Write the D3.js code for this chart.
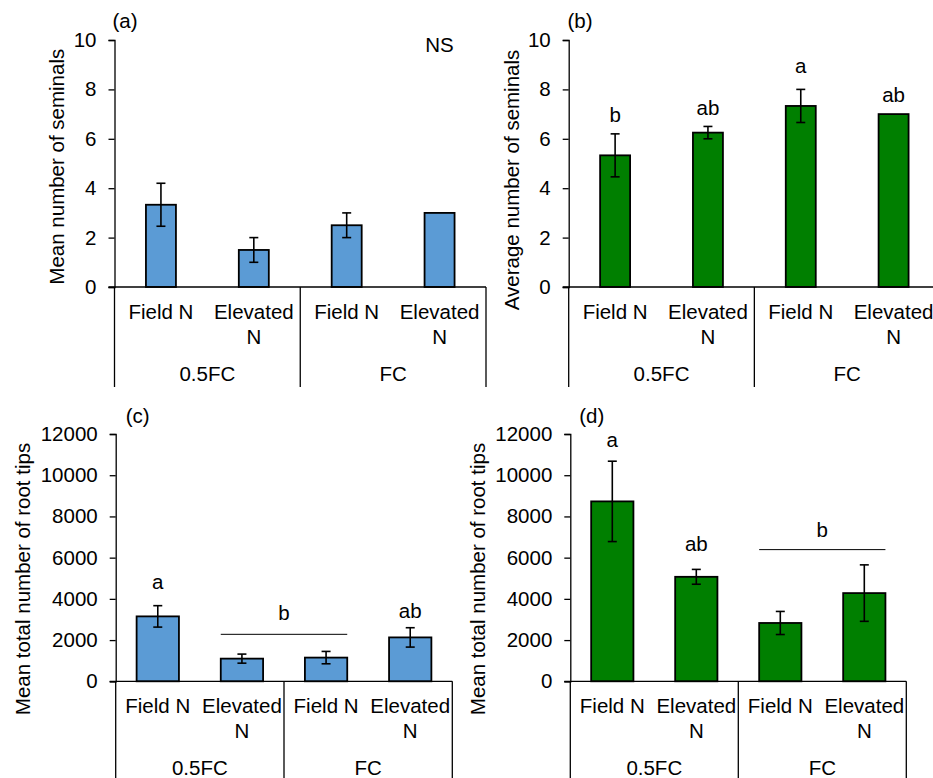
<!DOCTYPE html>
<html>
<head>
<meta charset="utf-8">
<script src="https://cdn.jsdelivr.net/npm/d3@7"></script>
<style>
  html, body { margin: 0; padding: 0; background: #fff; }
  svg { display: block; font-family: "Liberation Sans", Arial, sans-serif; }
</style>
</head>
<body>
<svg id="chart" width="933" height="778"></svg>
<script>
// Treatments: N level within each water regime
const nLevels = ["Field N", "Elevated N", "Field N", "Elevated N"];
const nLevelLines = [["Field N"], ["Elevated", "N"], ["Field N"], ["Elevated", "N"]];
const waterRegimes = ["0.5FC", "FC"];

// (a) seminal roots, blue series
const seminalsA = [3.33, 1.5, 2.5, 3.0];
const seminalsAErr = [0.87, 0.5, 0.5, 0];
// (b) seminal roots, green series
const seminalsB = [5.33, 6.25, 7.33, 7.0];
const seminalsBErr = [0.87, 0.25, 0.67, 0];
// (c) root tips, blue series
const tipsC = [3150, 1100, 1150, 2130];
const tipsCErr = [520, 220, 300, 470];
// (d) root tips, green series
const tipsD = [8730, 5070, 2830, 4280];
const tipsDErr = [1950, 360, 560, 1370];

// Significance letters: text, first/last bar covered, height in data units, optional bracket line
const lettersA = [{ text: "NS", from: 3, to: 3, at: 9.8 }];
const lettersB = [
  { text: "b", from: 0, to: 0, at: 7.0 },
  { text: "ab", from: 1, to: 1, at: 7.28 },
  { text: "a", from: 2, to: 2, at: 8.95 },
  { text: "ab", from: 3, to: 3, at: 7.8 }
];
const lettersC = [
  { text: "a", from: 0, to: 0, at: 4830 },
  { text: "b", from: 1, to: 2, at: 3330, line: 2280 },
  { text: "ab", from: 3, to: 3, at: 3430 }
];
const lettersD = [
  { text: "a", from: 0, to: 0, at: 11710 },
  { text: "ab", from: 1, to: 1, at: 6700 },
  { text: "b", from: 2, to: 3, at: 7380, line: 6390 }
];

const seminalTicks = [0, 2, 4, 6, 8, 10];
const tipTicks = [0, 2000, 4000, 6000, 8000, 10000, 12000];

const BLUE = "#5B9BD5";
const GREEN = "#007F00";
const FONT = 20.5;

const svg = d3.select("#chart");

function drawPanel(p) {
  const g = svg.append("g");
  const ids = d3.range(p.values.length);
  const x = d3.scaleBand().domain(ids).range([p.x0, p.x1]).padding(0);
  const y = d3.scaleLinear().domain([0, p.max]).range([p.yBottom, p.yTop]);
  const bw = x.bandwidth() * p.barFrac;
  const cx = i => x(i) + x.bandwidth() / 2;

  // y axis
  const yAxis = d3.axisLeft(y).tickValues(p.ticks).tickSize(6).tickPadding(12).tickFormat(d3.format("d"));
  const ya = g.append("g").attr("transform", `translate(${p.x0},0)`).call(yAxis);
  ya.select(".domain").attr("stroke", "#000").attr("stroke-width", 1.3);
  ya.selectAll(".tick line").attr("stroke", "#000").attr("stroke-width", 1.3);
  ya.selectAll(".tick text").attr("font-size", FONT).attr("fill", "#000")
    .attr("font-family", "'Liberation Sans', Arial, sans-serif");

  // bars
  g.selectAll("rect.bar").data(p.values).join("rect")
    .attr("class", "bar")
    .attr("x", (d, i) => cx(i) - bw / 2)
    .attr("y", d => y(d))
    .attr("width", bw)
    .attr("height", d => y(0) - y(d))
    .attr("fill", p.color)
    .attr("stroke", "#000")
    .attr("stroke-width", 1.8);

  // error bars
  const cap = 4.5;
  ids.forEach(i => {
    const e = p.errors[i];
    if (!e) return;
    const v = p.values[i];
    const eg = g.append("g").attr("stroke", "#000").attr("stroke-width", 1.6);
    eg.append("line").attr("x1", cx(i)).attr("x2", cx(i)).attr("y1", y(v + e)).attr("y2", y(v - e));
    eg.append("line").attr("x1", cx(i) - cap).attr("x2", cx(i) + cap).attr("y1", y(v + e)).attr("y2", y(v + e));
    eg.append("line").attr("x1", cx(i) - cap).attr("x2", cx(i) + cap).attr("y1", y(v - e)).attr("y2", y(v - e));
  });

  // category axis: baseline, separators and labels
  g.append("line").attr("x1", p.x0 - 6).attr("x2", p.x1).attr("y1", y(0)).attr("y2", y(0))
    .attr("stroke", "#000").attr("stroke-width", 1.3);
  [0, 2, 4].forEach(k => {
    const xx = k === 4 ? p.x1 : x(k);
    g.append("line").attr("x1", xx).attr("x2", xx).attr("y1", y(0)).attr("y2", y(0) + p.catDepth)
      .attr("stroke", "#000").attr("stroke-width", 1.3);
  });
  nLevelLines.forEach((lines, i) => {
    lines.forEach((t, j) => {
      g.append("text").attr("x", cx(i)).attr("y", y(0) + 24.5 + j * 24.5)
        .attr("text-anchor", "middle").attr("dominant-baseline", "central")
        .attr("font-size", FONT).attr("fill", "#000").text(t);
    });
  });
  waterRegimes.forEach((t, k) => {
    g.append("text").attr("x", x(2 * k) + x.bandwidth())
      .attr("y", y(0) + 86)
      .attr("text-anchor", "middle").attr("dominant-baseline", "central")
      .attr("font-size", FONT).attr("fill", "#000").text(t);
  });

  // significance letters
  p.letters.forEach(L => {
    const xm = (cx(L.from) + cx(L.to)) / 2;
    g.append("text").attr("x", xm).attr("y", y(L.at))
      .attr("text-anchor", "middle").attr("dominant-baseline", "central")
      .attr("font-size", FONT).attr("fill", "#000").text(L.text);
    if (L.line !== undefined) {
      g.append("line")
        .attr("x1", cx(L.from) - bw / 2).attr("x2", cx(L.to) + bw / 2)
        .attr("y1", y(L.line)).attr("y2", y(L.line))
        .attr("stroke", "#000").attr("stroke-width", 1);
    }
  });

  // panel tag
  g.append("text").attr("x", p.tag[1]).attr("y", p.tag[2])
    .attr("text-anchor", "middle").attr("dominant-baseline", "central")
    .attr("font-size", FONT).attr("fill", "#000").text(p.tag[0]);

  // y axis title
  g.append("text")
    .attr("transform", `translate(${p.title[1]},${p.title[2]}) rotate(-90)`)
    .attr("text-anchor", "middle").attr("dominant-baseline", "central")
    .attr("font-size", FONT).attr("fill", "#000").text(p.title[0]);
}

drawPanel({
  values: seminalsA, errors: seminalsAErr, letters: lettersA, color: BLUE,
  max: 10, ticks: seminalTicks,
  x0: 114.5, x1: 486, yTop: 40, yBottom: 287, catDepth: 100, barFrac: 0.323,
  tag: ["(a)", 125, 20], title: ["Mean number of seminals", 56, 166.7]
});
drawPanel({
  values: seminalsB, errors: seminalsBErr, letters: lettersB, color: GREEN,
  max: 10, ticks: seminalTicks,
  x0: 568.7, x1: 940, yTop: 40, yBottom: 287, catDepth: 100, barFrac: 0.323,
  tag: ["(b)", 580, 20], title: ["Average number of seminals", 511.7, 180]
});
drawPanel({
  values: tipsC, errors: tipsCErr, letters: lettersC, color: BLUE,
  max: 12000, ticks: tipTicks,
  x0: 115.7, x1: 452.3, yTop: 434, yBottom: 681.3, catDepth: 110, barFrac: 0.503,
  tag: ["(c)", 137.7, 415], title: ["Mean total number of root tips", 22.7, 579]
});
drawPanel({
  values: tipsD, errors: tipsDErr, letters: lettersD, color: GREEN,
  max: 12000, ticks: tipTicks,
  x0: 570.3, x1: 906.3, yTop: 434, yBottom: 681.3, catDepth: 110, barFrac: 0.503,
  tag: ["(d)", 591.7, 415], title: ["Mean total number of root tips", 477.3, 579]
});
</script>
</body>
</html>
